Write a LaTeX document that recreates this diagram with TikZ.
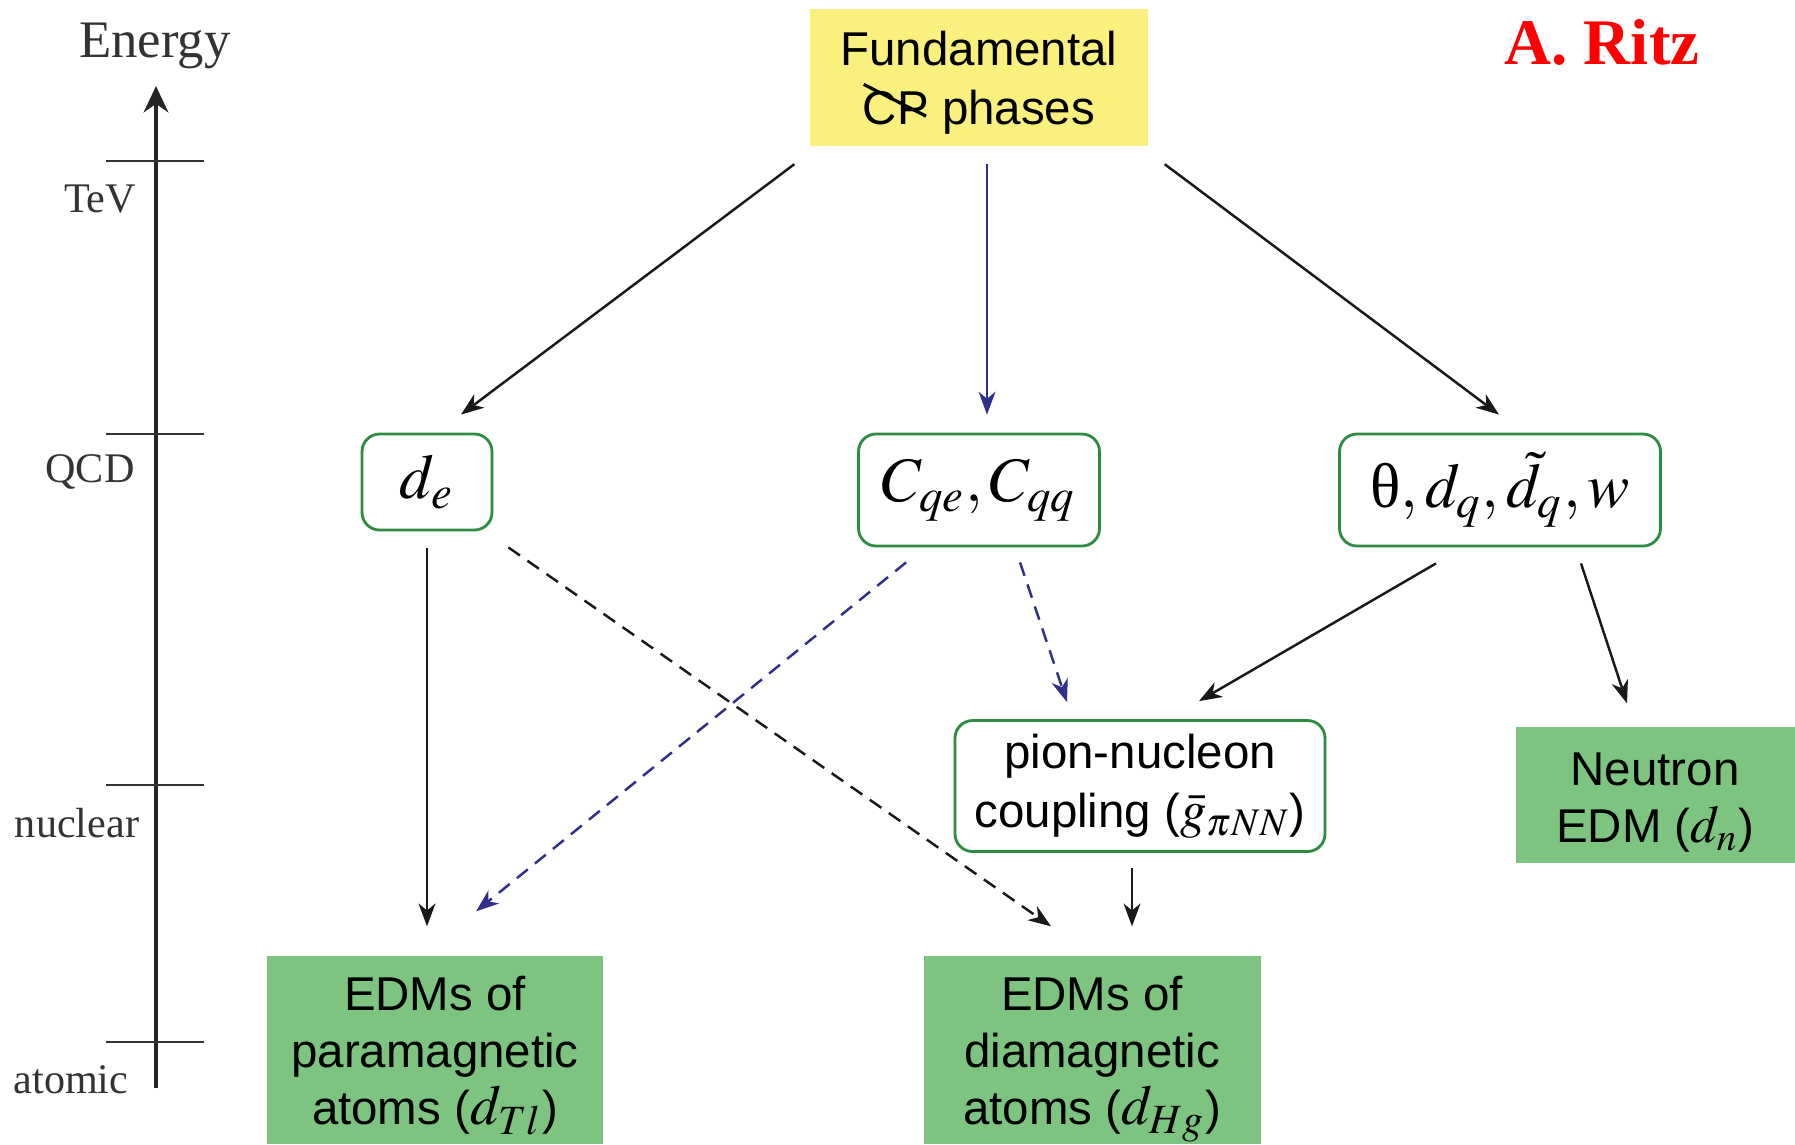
\documentclass[tikz,border=0pt]{standalone}
\usepackage{mathptmx}
\usepackage{fontspec}
\setmainfont{Liberation Serif}
\setsansfont{Liberation Sans}
\usepackage{tikz}
\usetikzlibrary{arrows.meta, positioning, calc}
\definecolor{cpyellow}{RGB}{249, 240, 126}
\definecolor{boxgreen}{RGB}{45, 140, 65}
\definecolor{edmgreen}{RGB}{124, 196, 128}
\definecolor{flowblue}{RGB}{48, 48, 140}
\definecolor{ritzred}{RGB}{255, 0, 0}
\newcommand{\cpslash}{\rlap{\raisebox{11pt}{\rotatebox{-27}{\rule{7mm}{0.9pt}}}}CP}
\newcommand{\topstrut}[1]{\rule{0pt}{#1}}

\begin{document}
\begin{tikzpicture}[x=0.1mm, y=-0.1mm,
  fundbox/.style={fill=cpyellow, inner sep=0pt, align=center, font=\sffamily\fontsize{13.5}{16.8}\selectfont},
  rbox/.style={draw=boxgreen, line width=0.8pt, rounded corners=5pt, inner sep=0pt, align=center, font=\fontsize{18}{20}\selectfont},
  gbox/.style={fill=edmgreen, inner sep=0pt, align=center, font=\sffamily\fontsize{13.5}{16.3}\selectfont},
  lvl/.style={font=\fontsize{12}{14}\selectfont, text=black!80},
  arr/.style={line width=0.7pt, draw=black!90, -{Stealth[length=6.5pt, width=4.8pt, inset=2pt]}},
  darr/.style={arr, dash pattern=on 4pt off 2.6pt}
]
  \useasboundingbox (0,0) rectangle (1795,1144);

  % energy scale
  \node[font=\fontsize{15}{17}\selectfont, text=black!80] (energy) at (155,46) {Energy};
  \coordinate (axbot) at (156,1088);
  \coordinate (axtop) at (156,86);
  \draw[line width=1.3pt, draw=black!85, -{Stealth[length=7.5pt, width=7pt]}] (axbot) -- (axtop);
  \foreach \y/\lab/\lx in {161/TeV/100, 434/QCD/90, 785/nuclear/77, 1042/atomic/71}{
    \coordinate (tl-\lab) at (106,\y);
    \coordinate (tr-\lab) at (204,\y);
    \draw[line width=0.5pt, draw=black!80] (tl-\lab) -- (tr-\lab);
    \node[lvl] (lvl-\lab) at (\lx,\y+38) {\lab};
  }

  \node[font=\bfseries\fontsize{18.5}{21}\selectfont, text=ritzred] (ritz) at (1602,42) {A. Ritz};

  % boxes
  \node[fundbox, minimum width=33.8mm, minimum height=13.7mm] (fund) at (979,77) {\topstrut{13pt}Fundamental\\\cpslash{} phases};
  \node[rbox, minimum width=13mm, minimum height=9.6mm] (de) at (427,482) {$d_e$};
  \node[rbox, minimum width=24.1mm, minimum height=11.2mm] (cq) at (979,490) {$C_{qe}, C_{qq}$};
  \node[rbox, minimum width=32.1mm, minimum height=11.2mm] (th) at (1500,490) {$\textrm{θ}, d_q, \tilde{d}_q, w$};
  \node[rbox, font=\sffamily\fontsize{13.5}{16.8}\selectfont, minimum width=37mm, minimum height=13.1mm] (pion) at (1140,786)
    {pion-nucleon\\coupling ({\fontsize{15}{15}\selectfont$\bar{g}_{\pi NN}$})};
  \node[gbox, minimum width=27.9mm, minimum height=13.6mm] (neut) at (1655,795)
    {\topstrut{13.7pt}Neutron\\EDM ({\fontsize{15}{15}\selectfont$d_n$})};
  \node[gbox, minimum width=33.6mm, minimum height=18.8mm] (para) at (435,1050)
    {\topstrut{14.8pt}EDMs of\\paramagnetic\\atoms ({\fontsize{16}{16}\selectfont$d_{Tl}\vphantom{d_{Hg}}$})};
  \node[gbox, minimum width=33.7mm, minimum height=18.8mm] (dia) at (1092,1050)
    {\topstrut{14.8pt}EDMs of\\diamagnetic\\atoms ({\fontsize{16}{16}\selectfont$d_{Hg}$})};

  % flow
  \draw[arr] ($(fund.south west)+(-15,18)$) -- ($(de.north)+(34,-18)$);
  \draw[arr, draw=flowblue] ($(fund.south)+(8,18)$) -- ($(cq.north)+(8,-18)$);
  \draw[arr] ($(fund.south east)+(16,18)$) -- ($(th.north)+(-1,-18)$);
  \draw[arr] ($(de.south)+(0,17)$) -- ($(para.north)+(-8,-29)$);
  \draw[darr] ($(de.south east)+(15,16)$) -- ($(dia.north)+(-41,-29)$);
  \draw[darr, draw=flowblue] ($(cq.south west)+(49,15)$) -- ($(para.north)+(41,-44)$);
  \draw[darr, draw=flowblue] ($(cq.south)+(41,15)$) -- ($(pion.north)+(-73,-17)$);
  \draw[arr] ($(th.south)+(-64,16)$) -- ($(pion.north)+(59,-18)$);
  \draw[arr] ($(th.south)+(81,16)$) -- ($(neut.north)+(-28,-23)$);
  \draw[arr] ($(pion.south)+(-8,15)$) -- ($(dia.north)+(40,-29)$);
\end{tikzpicture}
\end{document}
